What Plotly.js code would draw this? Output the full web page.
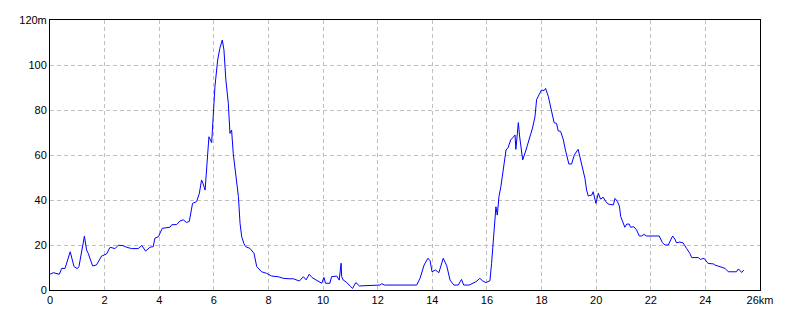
<!DOCTYPE html>
<html><head><meta charset="utf-8">
<script src="https://cdn.plot.ly/plotly-3.0.1.min.js"></script>
<style>html,body{margin:0;padding:0;background:#fff}#chart{width:800px;height:320px}</style>
</head><body><div id="chart"></div>
<script>
const distanceKm = [0,0.12,0.34,0.43,0.55,0.74,0.88,1.0,1.06,1.26,1.34,1.4,1.56,1.7,1.89,2.07,2.2,2.38,2.5,2.68,2.81,2.99,3.23,3.36,3.5,3.66,3.78,3.84,3.97,4.11,4.39,4.46,4.64,4.76,4.88,5.0,5.1,5.22,5.37,5.47,5.55,5.6,5.68,5.74,5.82,5.92,5.98,6.04,6.14,6.22,6.31,6.37,6.44,6.53,6.59,6.65,6.71,6.81,6.9,6.96,7.02,7.1,7.16,7.32,7.47,7.57,7.75,7.93,8.12,8.36,8.54,8.75,8.91,9.13,9.28,9.38,9.49,9.6,9.74,9.95,10.03,10.09,10.25,10.31,10.5,10.59,10.66,10.68,10.74,10.85,11.01,11.08,11.2,11.33,12.08,12.15,12.25,13.43,13.55,13.7,13.84,13.92,13.99,14.11,14.24,14.4,14.53,14.65,14.79,14.95,15.07,15.15,15.35,15.6,15.74,15.85,15.96,16.11,16.17,16.23,16.29,16.33,16.38,16.44,16.51,16.6,16.7,16.78,16.87,16.96,17.03,17.06,17.11,17.15,17.2,17.27,17.31,17.43,17.51,17.64,17.67,17.76,17.82,17.92,18.0,18.09,18.15,18.25,18.33,18.41,18.46,18.55,18.61,18.7,18.8,18.86,18.92,19.0,19.1,19.2,19.34,19.41,19.47,19.59,19.65,19.71,19.84,19.89,19.99,20.08,20.16,20.26,20.35,20.44,20.63,20.69,20.78,20.85,20.9,20.99,21.05,21.12,21.21,21.26,21.38,21.48,21.58,21.66,21.75,21.85,22.31,22.43,22.52,22.64,22.72,22.8,22.88,22.94,23.06,23.18,23.31,23.43,23.5,23.74,23.82,23.95,24.1,24.29,24.35,24.53,24.72,24.84,25.14,25.2,25.26,25.33,25.41];
const elevationM = [7,7.7,7,9.6,9.6,17,10.4,9.5,10.4,23.9,17.8,16.3,10.7,11.1,15.1,16,19,18.4,19.9,19.7,19,18.4,18.4,19.8,17.3,19,19.3,23,23.7,27.4,27.9,29,29.1,30.7,31.2,30,30.5,38.5,39.3,43,48.9,47.5,44.4,54.8,68.1,65.5,80,90.4,102.2,107.4,111.1,106.7,93.3,83,69.6,71.1,60.7,48.9,41.5,29.6,23.7,20.7,19.3,18.5,16.3,10.4,8.1,7.4,6.2,5.9,5.2,5,5,4,5.9,4.5,7,5.5,4.4,3,5.6,3,3,5.9,6.2,4.4,11.9,6,4.4,3.5,1.5,0.7,3.3,1.8,2.2,2.8,2.2,2.2,5.2,11.1,14.1,13,8.1,8.9,7.7,14.1,10.7,4.4,2.2,2.2,4.7,2.2,2.2,3.7,5.2,4,3.3,4.1,11.8,22.2,31.1,37,33.3,41.5,45.9,53.3,62.2,63.4,66.7,67.9,68.9,62.5,70.4,74.4,68,60,57.8,62.2,65.2,71.1,72,77,84.7,87,88.9,88.6,89.6,85.9,81.5,77.3,74.4,74,70.7,70.5,66.7,63,59.3,56,56,60,62.5,58.5,55.6,49.6,44.4,41.8,42.2,43.7,38.5,43,40.4,41.2,39.4,38.2,37.8,40.7,39.3,37.3,32.6,29.6,27.9,29.3,29.3,27.9,28.1,26.7,24,24,24.7,24,24,21,20,20,22.2,24,22.7,21,21.3,21,18.5,16.3,14.4,14.4,13.6,14.1,11.8,11.6,11.1,10.4,9.6,8.1,8.1,9.3,8.8,7.8,8.9];
const xTickVals = [0,2,4,6,8,10,12,14,16,18,20,22,24,26];
const xTickText = ["0","2","4","6","8","10","12","14","16","18","20","22","24","26km"];
const yTickVals = [0,20,40,60,80,100,120];
const yTickText = ["0","20","40","60","80","100","120m"];

const axisCommon = {
  showline: true, linecolor: '#000', linewidth: 1, mirror: true,
  showgrid: true, gridcolor: '#c0c0c0', gridwidth: 1, griddash: '4px,3px',
  zeroline: false, ticks: '', tickmode: 'array',
  tickfont: {family: 'Liberation Sans, Arial, sans-serif', size: 11, color: '#000'},
  fixedrange: true
};
Plotly.newPlot('chart', [{
  x: distanceKm, y: elevationM, type: 'scatter', mode: 'lines',
  line: {color: '#0000ff', width: 1}, hoverinfo: 'skip'
}], {
  width: 800, height: 320,
  margin: {l: 50, r: 40, t: 20, b: 30},
  paper_bgcolor: '#fff', plot_bgcolor: '#fff',
  showlegend: false,
  xaxis: Object.assign({}, axisCommon, {range: [0, 26], tickvals: xTickVals, ticktext: xTickText}),
  yaxis: Object.assign({}, axisCommon, {range: [0, 120], tickvals: yTickVals, ticktext: yTickText})
}, {displayModeBar: false, staticPlot: true});
</script>
</body></html>
